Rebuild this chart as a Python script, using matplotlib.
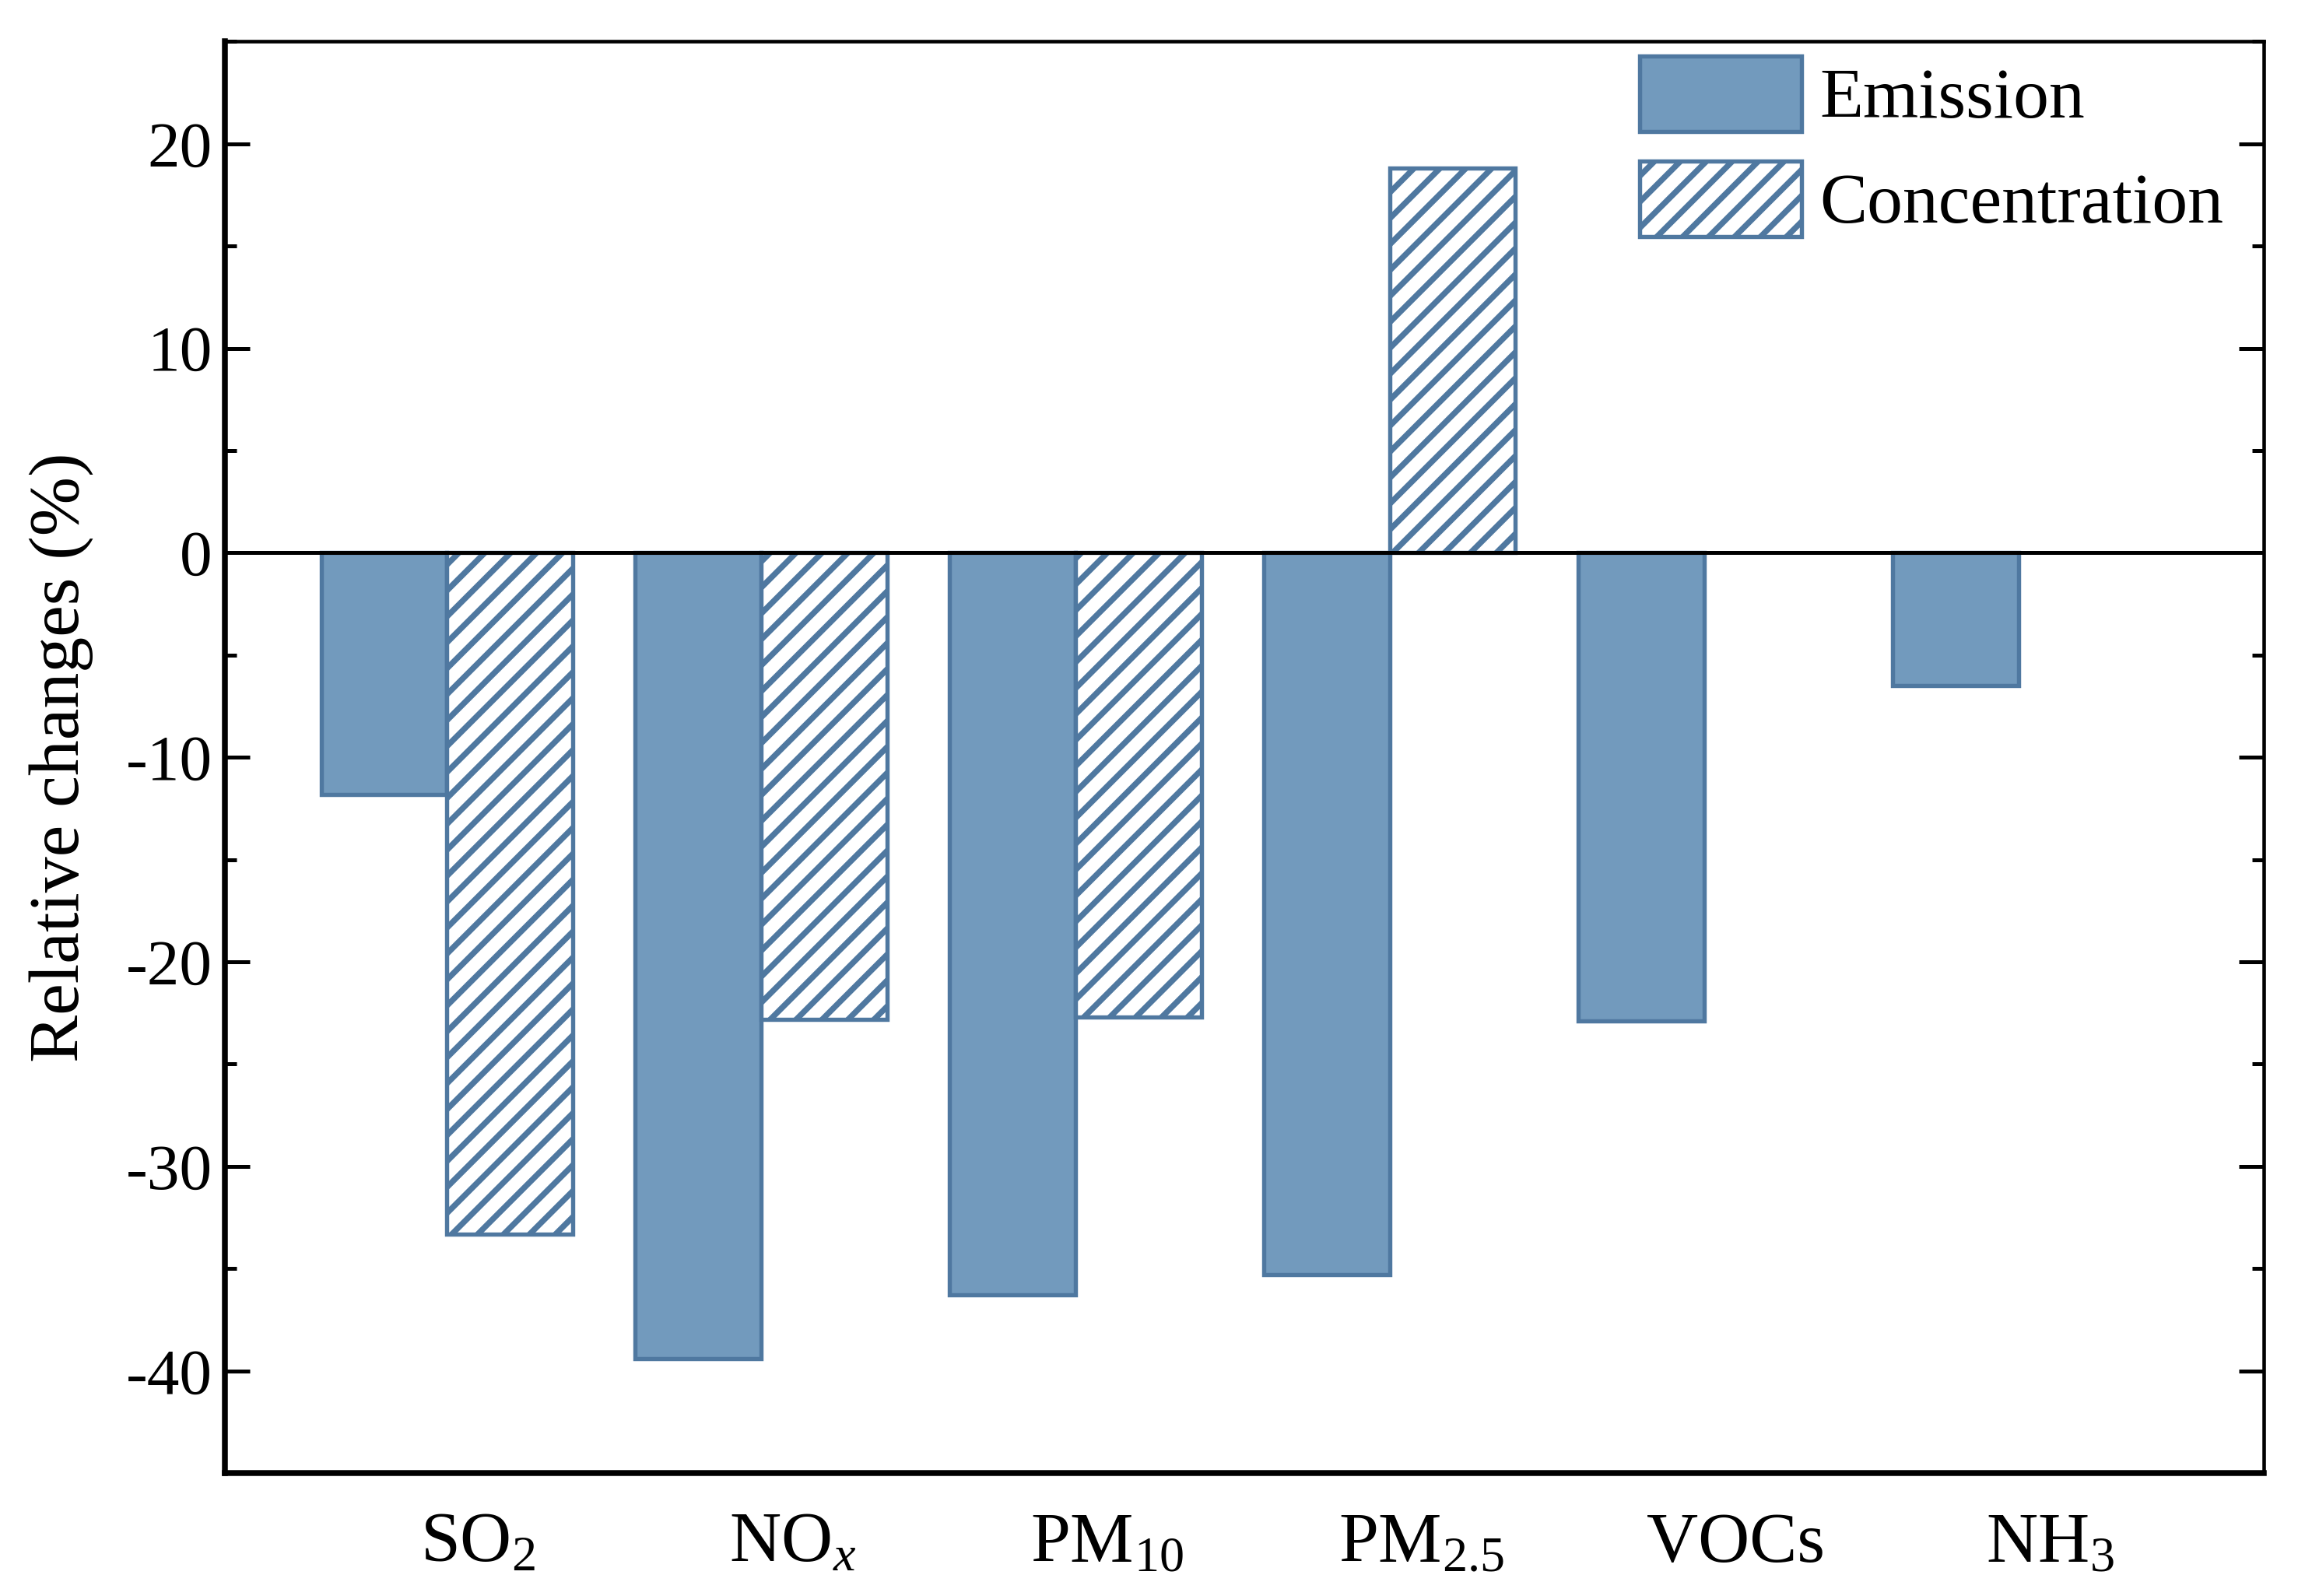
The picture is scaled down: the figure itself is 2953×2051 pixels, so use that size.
import matplotlib
matplotlib.use("Agg")
import matplotlib.pyplot as plt
import numpy as np
from matplotlib.ticker import MultipleLocator

# Data
species = ['SO$_2$', 'NO$_x$', 'PM$_{10}$', 'PM$_{2.5}$', 'VOCs', 'NH$_3$']
emission = [-11.8, -39.4, -36.3, -35.3, -22.9, -6.5]
concentration = [-33.3, -22.8, -22.7, 18.8, np.nan, np.nan]

plt.rcParams['font.family'] = ['Liberation Serif', 'DejaVu Serif']
plt.rcParams['mathtext.fontset'] = 'custom'
plt.rcParams['mathtext.rm'] = 'Liberation Serif'
plt.rcParams['mathtext.it'] = 'Liberation Serif:italic'
plt.rcParams['axes.unicode_minus'] = False
plt.rcParams['hatch.linewidth'] = 1.8

fill_c = '#729abd'
edge_c = '#4f78a0'

fig = plt.figure(figsize=(2953 / 300, 2051 / 300), dpi=300)
ax = fig.add_axes([0.098, 0.077, 0.887, 0.897])

x = np.arange(len(species))
w = 0.4
ax.bar(x - w / 2, emission, w, color=fill_c, edgecolor=edge_c, linewidth=1.3,
       label='Emission')
ax.bar(x + w / 2, concentration, w, color='white', edgecolor=edge_c, linewidth=1.3,
       hatch='///', label='Concentration')

ax.axhline(0, color='black', linewidth=1.2, zorder=3)

ax.set_xlim(-0.705, 5.78)
ax.set_ylim(-45, 25)
ax.set_xticks(x + 0.1)
ax.set_xticklabels(species, fontsize=22)
ax.tick_params(axis='x', length=0, pad=12)

ax.yaxis.set_major_locator(MultipleLocator(10))
ax.yaxis.set_minor_locator(MultipleLocator(5))
ax.tick_params(axis='y', which='major', direction='in', length=7.6, width=1.2,
               right=True, labelsize=20, pad=4)
ax.tick_params(axis='y', which='minor', direction='in', length=3.5, width=1.2,
               right=True)
ax.set_ylabel('Relative changes (%)', fontsize=22, labelpad=10)

for side, lw in [('left', 1.8), ('bottom', 1.8), ('top', 1.1), ('right', 1.1)]:
    ax.spines[side].set_linewidth(lw)

ax.legend(loc='upper left', bbox_to_anchor=(0.694, 0.99), frameon=False,
          fontsize=22, borderpad=0, borderaxespad=0, handlelength=2.27,
          handleheight=1.25, handletextpad=0.25, labelspacing=0.4)

fig.savefig('out.png', dpi=300)
